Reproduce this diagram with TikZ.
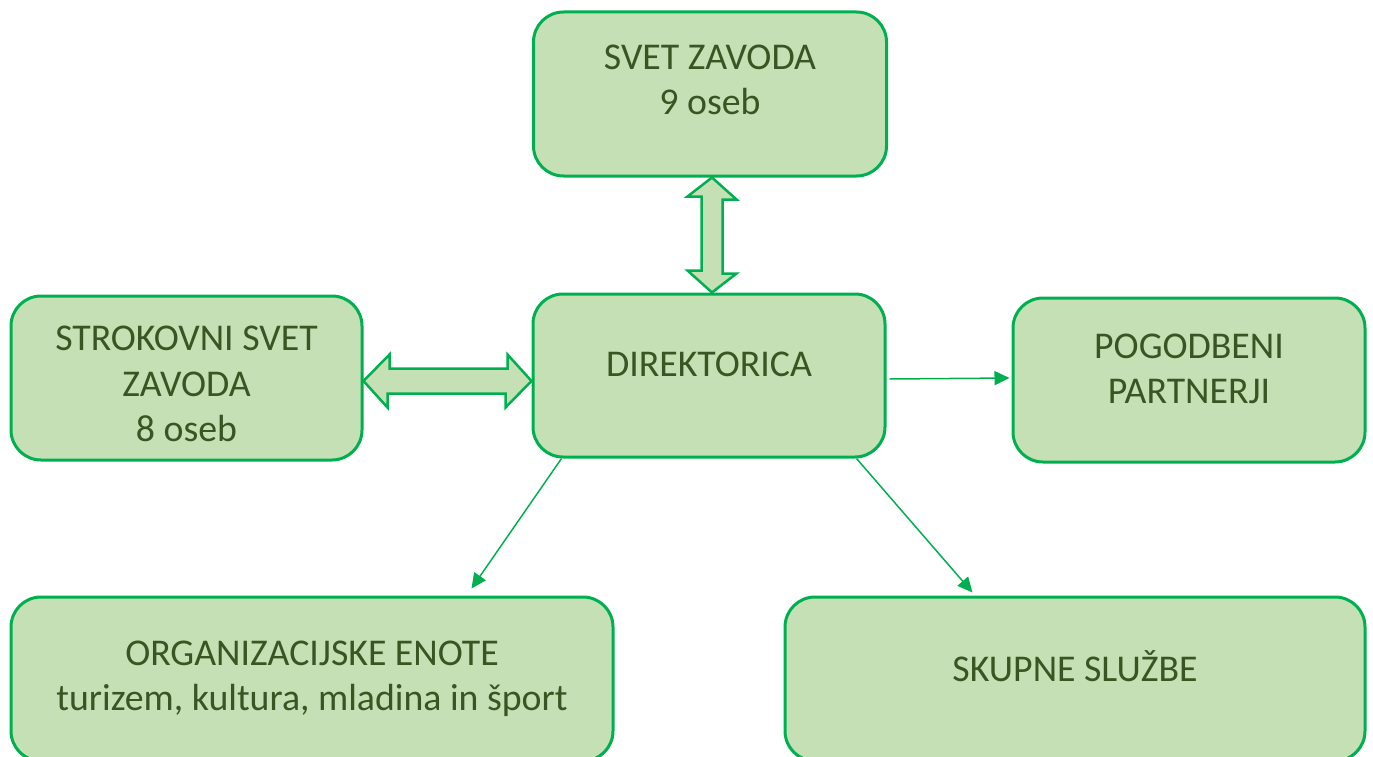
\documentclass[tikz,border=0pt]{standalone}
\usepackage{fontspec}
\setmainfont{Carlito}
\usetikzlibrary{arrows.meta,calc,positioning}

\definecolor{boxfill}{HTML}{C5E0B4}
\definecolor{boxline}{HTML}{00B050}
\definecolor{boxtext}{HTML}{375623}

\begin{document}
\begin{tikzpicture}[x=1pt, y=-1pt]

	\tikzstyle{okvir}=[draw=boxline, fill=boxfill, line width=3pt, rounded corners=30pt, inner sep=0pt]
	\tikzstyle{napis}=[text=boxtext, align=center, font=\fontsize{37.8}{45.5}\selectfont]
	\tikzstyle{puscica}=[boxline, line width=1.5pt, -{Triangle[length=15pt, width=14pt]}]
	\tikzstyle{blok}=[draw=boxline, fill=boxfill, line width=2.5pt, line join=miter]

	\useasboundingbox (0,0) rectangle (1373,757);
	\clip (0,0) rectangle (1373,757);

	\coordinate (svet) at (710, 94); % ZGORAJ
	\coordinate (dir) at (709, 375.5); % SREDINA
	\coordinate (strok) at (186.5, 378); % LEVO
	\coordinate (pog) at (1189, 380); % DESNO
	\coordinate (org) at (312, 679); % SPODAJ LEVO
	\coordinate (sku) at (1075, 679); % SPODAJ DESNO

	\node[okvir, minimum width=353pt, minimum height=164pt,
		label={[napis, yshift=14pt]center:SVET ZAVODA\\9 oseb}] (svet) at (svet) {};
	\node[okvir, minimum width=352pt, minimum height=163pt,
		label={[napis, yshift=11pt]center:DIREKTORICA}] (dir) at (dir) {};
	\node[okvir, minimum width=351pt, minimum height=164pt,
		label={[napis, yshift=-6pt]center:STROKOVNI SVET\\ZAVODA\\8 oseb}] (strok) at (strok) {};
	\node[okvir, minimum width=352pt, minimum height=164pt,
		label={[napis, yshift=11pt]center:POGODBENI\\PARTNERJI}] (pog) at (pog) {};
	\node[okvir, minimum width=602pt, minimum height=164pt,
		label={[napis]center:ORGANIZACIJSKE ENOTE\\turizem, kultura, mladina in šport}] (org) at (org) {};
	\node[okvir, minimum width=580pt, minimum height=164pt,
		label={[napis, yshift=13pt]center:SKUPNE SLUŽBE}] (sku) at (sku) {};

	% dvojni puscici
	\draw[blok] ([xshift=2pt]svet.south) -- ++(24.5,22) -- ++(-14,0) -- ++(0,74) -- ++(14,0) -- ([xshift=3pt]dir.north)
		-- ++(-24.5,-22) -- ++(14,0) -- ++(0,-74) -- ++(-14,0) -- cycle;
	\draw[blok] ([yshift=-3pt]strok.east) -- ++(26,-26.5) -- ++(0,14) -- ++(118,0) -- ++(0,-14) -- ([yshift=-5.5pt]dir.west)
		-- ++(-26,26.5) -- ++(0,-14) -- ++(-118,0) -- ++(0,14) -- cycle;

	% enojne puscice
	\draw[puscica] ([xshift=3pt, yshift=-3.5pt]dir.east) -- ([xshift=-2pt, yshift=2pt]pog.west);
	\draw[puscica] ([xshift=30pt]dir.south west) -- ([xshift=462pt, yshift=7pt]org.north west);
	\draw[puscica] ([xshift=-30pt]dir.south east) -- ([xshift=189pt, yshift=3pt]sku.north west);

\end{tikzpicture}
\end{document}
